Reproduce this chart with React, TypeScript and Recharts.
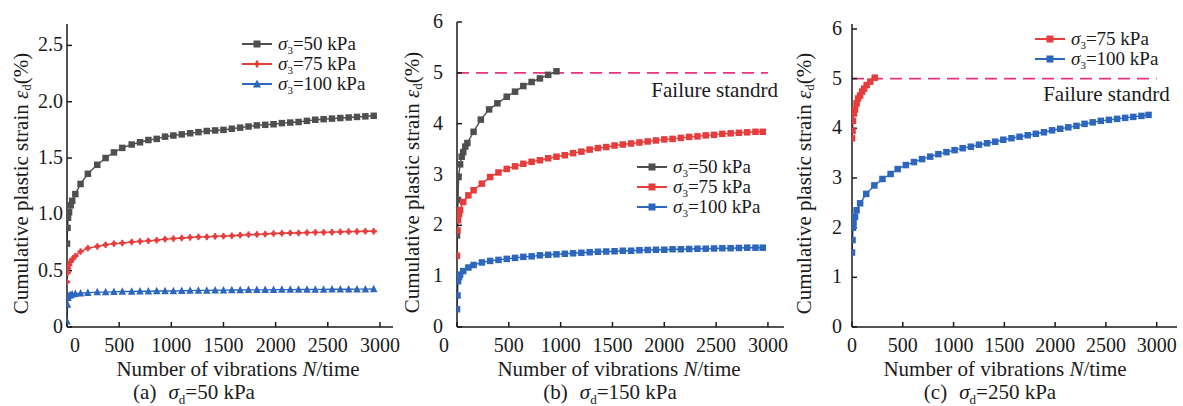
import { LineChart, Line, XAxis, YAxis, ReferenceLine, Legend } from 'recharts'

const FONT = '"Liberation Serif", "Times New Roman", serif'
const INK = '#1a1a1a'
const GRAY = '#4f4f4f'
const RED = '#e63c3c'
const BLUE = '#2d66bd'
const PINK = '#e8337f'

const xTicks = [0, 500, 1000, 1500, 2000, 2500, 3000]

// (a) σd = 50 kPa
const aN = [0, 5, 10, 20, 35, 50, 80, 130, 200, 290, 370, 450, 530, 620, 700, 780, 860, 940, 1020, 1100, 1180, 1260, 1340, 1420, 1500, 1580, 1660, 1740, 1820, 1900, 1980, 2060, 2140, 2220, 2300, 2380, 2460, 2540, 2620, 2700, 2780, 2860, 2940]
const a50 = [0.74, 0.88, 0.97, 1.02, 1.08, 1.12, 1.18, 1.27, 1.36, 1.44, 1.5, 1.55, 1.59, 1.62, 1.64, 1.66, 1.67, 1.69, 1.7, 1.71, 1.72, 1.73, 1.74, 1.745, 1.75, 1.76, 1.77, 1.78, 1.79, 1.795, 1.8, 1.81, 1.815, 1.82, 1.83, 1.84, 1.845, 1.85, 1.855, 1.86, 1.865, 1.87, 1.875]
const a75 = [0.4, 0.48, 0.52, 0.55, 0.58, 0.6, 0.63, 0.67, 0.7, 0.715, 0.73, 0.74, 0.745, 0.755, 0.76, 0.765, 0.77, 0.78, 0.785, 0.79, 0.795, 0.8, 0.8, 0.805, 0.807, 0.81, 0.815, 0.82, 0.822, 0.825, 0.83, 0.832, 0.835, 0.835, 0.838, 0.84, 0.84, 0.842, 0.845, 0.847, 0.848, 0.85, 0.85]
const a100 = [0.05, 0.2, 0.26, 0.28, 0.285, 0.29, 0.295, 0.3, 0.305, 0.31, 0.31, 0.312, 0.315, 0.315, 0.317, 0.318, 0.32, 0.32, 0.32, 0.322, 0.323, 0.325, 0.325, 0.326, 0.327, 0.328, 0.328, 0.33, 0.33, 0.33, 0.331, 0.332, 0.332, 0.333, 0.333, 0.334, 0.334, 0.335, 0.335, 0.335, 0.336, 0.336, 0.337]
const aYTicks = [0, 0.5, 1, 1.5, 2, 2.5]

// (b) σd = 150 kPa
const bN50 = [0, 5, 10, 15, 30, 45, 60, 80, 100, 160, 230, 310, 390, 480, 560, 640, 720, 800, 880, 960]
const b50 = [1.8, 2.2, 2.5, 2.95, 3.2, 3.35, 3.44, 3.55, 3.62, 3.84, 4.08, 4.28, 4.4, 4.53, 4.63, 4.74, 4.82, 4.89, 4.96, 5.03]
const bN = [0, 5, 10, 20, 30, 60, 110, 160, 240, 320, 400, 480, 560, 640, 720, 800, 880, 960, 1040, 1120, 1200, 1280, 1360, 1440, 1520, 1600, 1680, 1760, 1840, 1920, 2000, 2080, 2160, 2240, 2320, 2400, 2480, 2560, 2640, 2720, 2800, 2880, 2950]
const b75 = [1.4, 1.9, 2.1, 2.22, 2.3, 2.46, 2.59, 2.69, 2.82, 2.95, 3.04, 3.11, 3.16, 3.21, 3.25, 3.28, 3.32, 3.35, 3.38, 3.42, 3.45, 3.49, 3.52, 3.54, 3.57, 3.59, 3.61, 3.63, 3.65, 3.67, 3.69, 3.7, 3.72, 3.74, 3.75, 3.77, 3.78, 3.8, 3.81, 3.82, 3.83, 3.84, 3.84]
const b100 = [0.35, 0.62, 0.9, 0.98, 1.03, 1.1, 1.17, 1.22, 1.27, 1.3, 1.32, 1.34, 1.36, 1.38, 1.39, 1.41, 1.42, 1.43, 1.44, 1.45, 1.46, 1.47, 1.48, 1.485, 1.49, 1.5, 1.5, 1.51, 1.515, 1.52, 1.52, 1.53, 1.53, 1.535, 1.54, 1.54, 1.545, 1.55, 1.55, 1.555, 1.56, 1.56, 1.56]

// (c) σd = 250 kPa
const cN75 = [0, 5, 10, 20, 30, 45, 60, 80, 100, 120, 145, 180, 225]
const c75 = [3.8, 3.95, 4.15, 4.3, 4.38, 4.5, 4.6, 4.66, 4.74, 4.8, 4.87, 4.94, 5.02]
const cN100 = [0, 5, 10, 15, 30, 45, 80, 140, 220, 300, 380, 450, 530, 610, 690, 770, 850, 930, 1010, 1090, 1170, 1250, 1330, 1410, 1490, 1570, 1650, 1730, 1810, 1890, 1970, 2050, 2130, 2210, 2290, 2370, 2450, 2530, 2610, 2690, 2770, 2850, 2920]
const c100 = [1.5, 1.75, 2.0, 2.1, 2.22, 2.35, 2.49, 2.68, 2.85, 2.98, 3.08, 3.18, 3.26, 3.32, 3.38, 3.43, 3.48, 3.52, 3.56, 3.6, 3.63, 3.67, 3.7, 3.73, 3.77, 3.8, 3.83, 3.86, 3.89, 3.92, 3.96, 3.99, 4.02, 4.05, 4.09, 4.12, 4.15, 4.17, 4.19, 4.21, 4.23, 4.25, 4.27]
const intTicks = [0, 1, 2, 3, 4, 5, 6]

const FAILURE = 5

const zip = (ns: number[], vs: number[]) => ns.map((n, i) => ({ n, v: vs[i] }))

type Series = { kpa: string; data: { n: number; v: number }[]; color: string; shape: string }

function Marker({ x, y, shape, color, s = 6.5 }: { x: number; y: number; shape: string; color: string; s?: number }) {
  const h = s / 2
  if (shape === 'triangle')
    return <path d={`M${x},${y - h - 1}L${x + h + 0.5},${y + h}L${x - h - 0.5},${y + h}Z`} fill={color} />
  if (shape === 'star')
    return (
      <g fill={color}>
        <rect x={x - h} y={y - 1} width={s} height={2} />
        <rect x={x - 1} y={y - h} width={2} height={s} />
        <rect x={x - 1.8} y={y - 1.8} width={3.6} height={3.6} />
      </g>
    )
  return <rect x={x - h} y={y - h} width={s} height={s} fill={color} />
}

const dotFor = (shape: string, color: string) => (p: any) => {
  if (p.cx == null || p.cy == null) return <g key={p.index} />
  return <Marker key={p.index} x={p.cx} y={p.cy} shape={shape} color={color} />
}

// legend rows: σ with a low subscript 3, kept inside the row box
function LegendBox({ items }: { items: Series[] }) {
  return (
    <div style={{ fontFamily: FONT, fontSize: 19, color: INK }}>
      {items.map(s => (
        <div key={s.kpa} style={{ display: 'flex', alignItems: 'center', height: 20, whiteSpace: 'nowrap' }}>
          <svg width={31} height={12} style={{ overflow: 'visible' }}>
            <line x1={0} y1={6} x2={30} y2={6} stroke={s.color} strokeWidth={2} />
            <Marker x={15} y={6} shape={s.shape} color={s.color} s={7} />
          </svg>
          <span style={{ marginLeft: 5, lineHeight: '20px' }}>
            <i>σ</i>
            <span style={{ fontSize: 11, position: 'relative', top: 4, lineHeight: '11px' }}>3</span>={s.kpa} kPa
          </span>
        </div>
      ))}
    </div>
  )
}

type PanelProps = {
  left: number
  width: number
  top: number
  yAxisWidth: number
  right: number
  xMax: number
  yMax: number
  yTicks: number[]
  yFmt: (v: number) => string
  yGap: number
  zeroDx: number
  series: Series[]
  failure?: { dx: number; dy: number }
  legendPos: { left: number; top: number }
  yTitleX: number
  titleX: number
  capX: number
  tag: string
  sd: string
}

function Panel(p: PanelProps) {
  const xTick = (t: any) => (
    <text x={t.x + (t.payload.value === 0 ? p.zeroDx : 0)} y={t.y} dy={30} textAnchor="middle" fontSize={20} fill={INK} fontFamily={FONT}>
      {t.payload.value}
    </text>
  )
  const yTick = (t: any) => (
    <text x={t.x - p.yGap} y={t.y} dy={6} textAnchor="end" fontSize={20} fill={INK} fontFamily={FONT}>
      {p.yFmt(t.payload.value)}
    </text>
  )
  const xTitle = (lp: any) => {
    const vb = lp.viewBox
    return (
      <g fontFamily={FONT} fill={INK}>
        <text x={vb.x + p.titleX} y={vb.y + 49} textAnchor="middle" fontSize={21}>
          Number of vibrations <tspan fontStyle="italic">N</tspan>/time
        </text>
        <text x={vb.x + p.capX} y={vb.y + 72} textAnchor="middle" fontSize={21}>
          ({p.tag})<tspan dx={12} fontStyle="italic">σ</tspan>
          <tspan fontSize={13} dy={5}>d</tspan>
          <tspan dy={-5}>={p.sd} kPa</tspan>
        </text>
      </g>
    )
  }
  const yTitle = (lp: any) => {
    const vb = lp.viewBox
    const cx = p.yTitleX
    const cy = vb.y + vb.height / 2 + 8
    return (
      <text x={cx} y={cy} dy={7} transform={`rotate(-90, ${cx}, ${cy})`} textAnchor="middle" fontSize={21} fontFamily={FONT} fill={INK}>
        Cumulative plastic strain <tspan fontStyle="italic">ε</tspan>
        <tspan fontSize={13} dy={3}>d</tspan>
        <tspan dy={-3}>(%)</tspan>
      </text>
    )
  }
  const failLabel = (lp: any) => {
    const vb = lp.viewBox
    return (
      <text x={vb.x + vb.width + (p.failure ? p.failure.dx : 0)} y={vb.y + (p.failure ? p.failure.dy : 0)} textAnchor="end" fontSize={21} fontFamily={FONT} fill={INK}>
        Failure standrd
      </text>
    )
  }
  const axisStroke = { stroke: INK, strokeWidth: 1.5 }

  return (
    <div style={{ position: 'absolute', left: p.left, top: 0 }}>
      <LineChart width={p.width} height={406} margin={{ top: p.top, right: p.right, left: 0, bottom: 0 }}>
        <XAxis
          type="number"
          dataKey="n"
          domain={[0, p.xMax]}
          ticks={xTicks}
          allowDataOverflow
          height={79}
          tickSize={-5}
          tickMargin={0}
          tickLine={axisStroke}
          axisLine={axisStroke}
          tick={xTick}
          label={{ content: xTitle }}
        />
        <XAxis xAxisId="top" orientation="top" type="number" domain={[0, p.xMax]} height={0} tick={false} tickLine={false} axisLine={axisStroke} />
        <YAxis
          type="number"
          domain={[0, p.yMax]}
          ticks={p.yTicks}
          allowDataOverflow
          width={p.yAxisWidth}
          tickSize={-5}
          tickMargin={0}
          tickLine={axisStroke}
          axisLine={axisStroke}
          tick={yTick}
          label={{ content: yTitle }}
        />
        <YAxis yAxisId="right" orientation="right" type="number" domain={[0, p.yMax]} width={0} tick={false} tickLine={false} axisLine={axisStroke} />
        {p.failure && (
          <ReferenceLine
            segment={[{ x: 0, y: FAILURE }, { x: 3000, y: FAILURE }]}
            stroke={PINK}
            strokeWidth={1.8}
            strokeDasharray="12 7"
            label={{ content: failLabel }}
          />
        )}
        {p.series.map(s => (
          <Line
            key={s.kpa}
            data={s.data}
            dataKey="v"
            name={`σ3=${s.kpa} kPa`}
            type="linear"
            stroke={s.color}
            strokeWidth={1.4}
            dot={dotFor(s.shape, s.color)}
            activeDot={false}
            isAnimationActive={false}
          />
        ))}
        <Legend
          layout="horizontal"
          verticalAlign="middle"
          align="center"
          wrapperStyle={{ left: p.legendPos.left, top: p.legendPos.top, width: 'auto', height: 'auto' }}
          content={() => <LegendBox items={p.series} />}
        />
      </LineChart>
    </div>
  )
}

const seriesA: Series[] = [
  { kpa: '50', data: zip(aN, a50), color: GRAY, shape: 'square' },
  { kpa: '75', data: zip(aN, a75), color: RED, shape: 'star' },
  { kpa: '100', data: zip(aN, a100), color: BLUE, shape: 'triangle' },
]
const seriesB: Series[] = [
  { kpa: '50', data: zip(bN50, b50), color: GRAY, shape: 'square' },
  { kpa: '75', data: zip(bN, b75), color: RED, shape: 'square' },
  { kpa: '100', data: zip(bN, b100), color: BLUE, shape: 'square' },
]
const seriesC: Series[] = [
  { kpa: '75', data: zip(cN75, c75), color: RED, shape: 'square' },
  { kpa: '100', data: zip(cN100, c100), color: BLUE, shape: 'square' },
]

export default function App() {
  return (
    <div style={{ position: 'absolute', left: 0, top: 0, width: 1183, height: 406, background: '#fff', fontFamily: FONT, overflow: 'hidden' }}>
      <Panel
        left={0} width={400} top={24} yAxisWidth={67} right={7}
        xMax={3125} yMax={2.69} yTicks={aYTicks} yFmt={v => (v === 0 ? '0' : v.toFixed(1))} yGap={9} zeroDx={8}
        series={seriesA} legendPos={{ left: 242, top: 34 }}
        yTitleX={21} titleX={171} capX={127} tag="a" sd="50"
      />
      <Panel
        left={395} width={395} top={22} yAxisWidth={62} right={6}
        xMax={3155} yMax={6} yTicks={intTicks} yFmt={v => String(v)} yGap={19} zeroDx={-13}
        series={seriesB} legendPos={{ left: 242, top: 157 }} failure={{ dx: 10, dy: 24 }}
        yTitleX={17} titleX={162} capX={153} tag="b" sd="150"
      />
      <Panel
        left={790} width={393} top={24} yAxisWidth={62} right={6}
        xMax={3200} yMax={6.1} yTicks={intTicks} yFmt={v => String(v)} yGap={15} zeroDx={0}
        series={seriesC} legendPos={{ left: 245, top: 29 }} failure={{ dx: 13, dy: 22 }}
        yTitleX={14} titleX={153} capX={138} tag="c" sd="250"
      />
    </div>
  )
}
